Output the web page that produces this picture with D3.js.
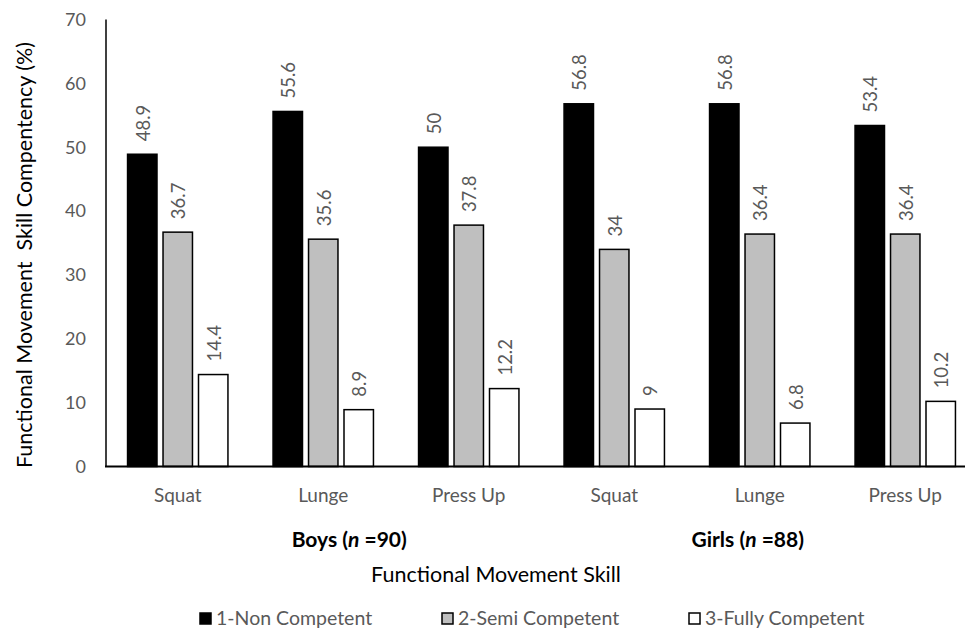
<!DOCTYPE html>
<html><head><meta charset="utf-8">
<script src="https://cdn.jsdelivr.net/npm/d3@7"></script>
<style>body{margin:0;background:#fff}svg{display:block}text{font-family:Lato,"Open Sans",sans-serif}</style>
</head><body><div id="c"></div>
<script>
const categories = ["Squat","Lunge","Press Up","Squat","Lunge","Press Up"];
const groups = ["Boys","Girls"];
const seriesNames = ["1-Non Competent","2-Semi Competent","3-Fully Competent"];
const nonCompetent = [48.9,55.6,50,56.8,56.8,53.4];
const semiCompetent = [36.7,35.6,37.8,34,36.4,36.4];
const fullyCompetent = [14.4,8.9,12.2,9,6.8,10.2];
const yTicks = [0,10,20,30,40,50,60,70];
const colors = ["#000000","#bfbfbf","#ffffff"];
const series = [nonCompetent, semiCompetent, fullyCompetent];

const W = 965, H = 630;
const svg = d3.select("#c").append("svg").attr("width",W).attr("height",H);
const x0 = d3.scaleBand().domain(d3.range(categories.length)).range([105,978]).padding(0);
const groupW = x0.bandwidth()*0.69;
const x1 = d3.scaleBand().domain(d3.range(3)).range([(x0.bandwidth()-groupW)/2,(x0.bandwidth()+groupW)/2]).paddingInner(0.17).paddingOuter(0);
const y = d3.scaleLinear().domain([0,70]).range([466.5,19.5]);

// y tick labels
svg.append("g").selectAll("text").data(yTicks).join("text")
  .attr("x",86).attr("y",d=>y(d)).attr("dy","0.35em").attr("text-anchor","end")
  .attr("fill","#595959").attr("font-size",18).text(d=>d);

// bars
const cat = svg.append("g").selectAll("g").data(d3.range(categories.length)).join("g")
  .attr("transform",i=>`translate(${x0(i)},0)`);
cat.selectAll("rect").data(i=>series.map((s,k)=>({k,v:s[i]}))).join("rect")
  .attr("x",d=>x1(d.k)).attr("width",x1.bandwidth())
  .attr("y",d=>y(d.v)).attr("height",d=>y(0)-y(d.v))
  .attr("fill",d=>colors[d.k]).attr("stroke","#000").attr("stroke-width",1.5);
cat.selectAll("text").data(i=>series.map((s,k)=>({k,v:s[i]}))).join("text")
  .attr("transform",d=>`translate(${x1(d.k)+x1.bandwidth()/2+1},${y(d.v)-13}) rotate(-90)`)
  .attr("dy","0.35em").attr("fill","#595959").attr("font-size",18.5).text(d=>d.v);

// axes lines
svg.append("line").attr("x1",106).attr("x2",106).attr("y1",y(70)).attr("y2",y(0)).attr("stroke","#000").attr("stroke-width",1.5);
svg.append("line").attr("x1",105).attr("x2",978).attr("y1",y(0)).attr("y2",y(0)).attr("stroke","#000").attr("stroke-width",2);

// category labels
svg.append("g").selectAll("text").data(categories).join("text")
  .attr("x",(d,i)=>x0(i)+x0.bandwidth()/2).attr("y",502).attr("text-anchor","middle")
  .attr("fill","#595959").attr("font-size",19).text(d=>d);

// group labels
const grpLabel = (gx,name,n)=>{
  const t = svg.append("text").attr("x",gx).attr("y",547).attr("text-anchor","middle")
    .attr("font-size",21).attr("font-weight","bold").attr("fill","#000");
  t.append("tspan").text(name+" (");
  t.append("tspan").attr("font-style","italic").text("n");
  t.append("tspan").text(" ="+n+")");
};
grpLabel(x0(1)+x0.bandwidth()/2+26,"Boys",90);
grpLabel(x0(4)+x0.bandwidth()/2-12,"Girls",88);

// axis titles
svg.append("text").attr("x",496).attr("y",582).attr("text-anchor","middle")
  .attr("font-size",21.5).attr("fill","#000").text("Functional Movement Skill");
svg.append("text").attr("transform","translate(24,255) rotate(-90)").attr("dy","0.35em")
  .attr("text-anchor","middle").attr("font-size",21.5).attr("fill","#000")
  .style("white-space","pre").text("Functional Movement  Skill Compentency (%)");

// legend
const legX = [200,442,689];
const leg = svg.append("g").selectAll("g").data(seriesNames).join("g")
  .attr("transform",(d,i)=>`translate(${legX[i]},613)`);
leg.append("rect").attr("width",11).attr("height",11).attr("fill",(d,i)=>colors[i])
  .attr("stroke","#000").attr("stroke-width",1.5);
leg.append("text").attr("x",16).attr("y",12).attr("fill","#595959").attr("font-size",19.5).text(d=>d);
</script></body></html>
